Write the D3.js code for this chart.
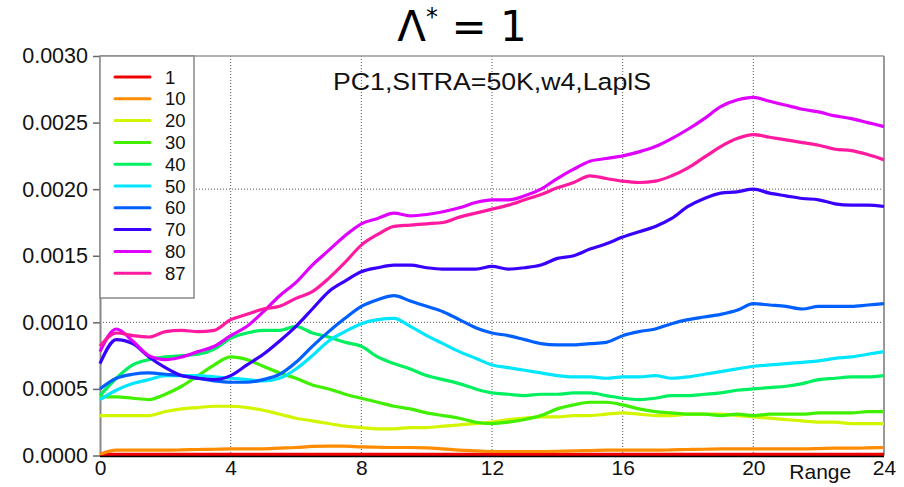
<!DOCTYPE html>
<html>
<head>
<meta charset="utf-8">
<script src="https://cdn.jsdelivr.net/npm/d3@7"></script>
<style>
  body { margin: 0; background: #fff; }
  svg { display: block; font-family: "Liberation Sans", Arial, sans-serif; }
  .grid line { stroke: #555; stroke-width: 1; stroke-dasharray: 1,2; }
</style>
</head>
<body>
<div id="chart"></div>
<script>
// range values (x)
var ranges = [0, 0.5, 1, 1.5, 2, 2.5, 3, 3.5, 4, 4.5, 5, 5.5, 6, 6.5, 7, 7.5, 8, 8.5, 9, 9.5,
  10, 10.5, 11, 11.5, 12, 12.5, 13, 13.5, 14, 14.5, 15, 15.5, 16, 16.5, 17, 17.5, 18, 18.5, 19, 19.5,
  20, 20.5, 21, 21.5, 22, 22.5, 23, 23.5, 24];

var seriesNames = ["1", "10", "20", "30", "40", "50", "60", "70", "80", "87"];
var seriesColors = ["#ee0000", "#ff8c00", "#d2f500", "#40f000", "#00f060", "#00e6ff", "#0060ff", "#3a00ff", "#e000ff", "#ff1aa0"];

var s1 = [0.000008, 0.000008, 0.000008, 0.000008, 0.000008, 0.000008, 0.000008, 0.000008, 0.000008, 0.000008,
  0.000008, 0.000008, 0.000008, 0.000008, 0.000008, 0.000008, 0.000008, 0.000008, 0.000008, 0.000008,
  0.000008, 0.000008, 0.000008, 0.000008, 0.000008, 0.000008, 0.000008, 0.000008, 0.000008, 0.000008,
  0.000008, 0.000008, 0.000008, 0.000008, 0.000008, 0.000008, 0.000008, 0.000008, 0.000008, 0.000008,
  0.000008, 0.000008, 0.000008, 0.000008, 0.000008, 0.000008, 0.000008, 0.000008, 0.000008];
var s10 = [0.00001, 0.00004, 0.00004, 0.00004, 0.00004, 0.000042, 0.000045, 0.000047, 0.00005, 0.00005,
  0.00005, 0.000055, 0.00006, 0.000068, 0.00007, 0.00007, 0.000065, 0.000062, 0.00006, 0.00006,
  0.000058, 0.00005, 0.00004, 0.000035, 0.00003, 0.00003, 0.00003, 0.00003, 0.000032, 0.000035,
  0.000037, 0.00004, 0.00004, 0.00004, 0.00004, 0.000042, 0.000045, 0.000047, 0.00005, 0.00005,
  0.00005, 0.00005, 0.00005, 0.00005, 0.000052, 0.000055, 0.000055, 0.000057, 0.00006];
var s20 = [0.0003, 0.0003, 0.0003, 0.0003, 0.00033, 0.00035, 0.00036, 0.00037, 0.00037, 0.00036,
  0.00034, 0.00031, 0.00028, 0.00026, 0.00024, 0.00022, 0.00021, 0.0002, 0.0002, 0.00021,
  0.00021, 0.00022, 0.00023, 0.00024, 0.00025, 0.00027, 0.00028, 0.00029, 0.00029, 0.0003,
  0.0003, 0.00031, 0.00032, 0.00031, 0.0003, 0.0003, 0.00031, 0.00031, 0.00031, 0.0003,
  0.00029, 0.00028, 0.00027, 0.00026, 0.00025, 0.00025, 0.00024, 0.00024, 0.00024];
var s30 = [0.00044, 0.00044, 0.00043, 0.00042, 0.00046, 0.00052, 0.0006, 0.00068, 0.00074, 0.00072,
  0.00067, 0.00062, 0.00058, 0.00053, 0.0005, 0.00046, 0.00043, 0.0004, 0.00037, 0.00035,
  0.00032, 0.0003, 0.00028, 0.00025, 0.00024, 0.00025, 0.00027, 0.0003, 0.00035, 0.00038,
  0.0004, 0.0004, 0.00038, 0.00035, 0.00033, 0.00032, 0.00031, 0.00031, 0.0003, 0.00031,
  0.0003, 0.00031, 0.00031, 0.00031, 0.00032, 0.00032, 0.00032, 0.00033, 0.00033];
var s40 = [0.00045, 0.00058, 0.00068, 0.00072, 0.00074, 0.00075, 0.00076, 0.0008, 0.00088, 0.00092,
  0.00094, 0.00094, 0.00097, 0.00092, 0.00089, 0.00085, 0.00082, 0.00074, 0.00069, 0.00065,
  0.0006, 0.00057, 0.00054, 0.0005, 0.00047, 0.00046, 0.00045, 0.00046, 0.00046, 0.00047,
  0.00047, 0.00045, 0.00043, 0.00042, 0.00043, 0.00045, 0.00045, 0.00046, 0.00047, 0.00049,
  0.0005, 0.00051, 0.00052, 0.00054, 0.00057, 0.00058, 0.00059, 0.00059, 0.0006];
var s50 = [0.00042, 0.00049, 0.00054, 0.00057, 0.0006, 0.0006, 0.0006, 0.00059, 0.00058, 0.00057,
  0.00056, 0.00058, 0.00065, 0.00075, 0.00086, 0.00093, 0.00099, 0.00102, 0.00103, 0.00097,
  0.0009, 0.00084, 0.00078, 0.00073, 0.00068, 0.00066, 0.00064, 0.00062, 0.0006, 0.00059,
  0.00059, 0.00058, 0.00059, 0.00059, 0.0006, 0.00058, 0.00059, 0.00061, 0.00063, 0.00065,
  0.00067, 0.00068, 0.00069, 0.0007, 0.00071, 0.00073, 0.00074, 0.00076, 0.00078];
var s60 = [0.0005, 0.00058, 0.00061, 0.00062, 0.00061, 0.0006, 0.00058, 0.00056, 0.00055, 0.00055,
  0.00057, 0.00061, 0.0007, 0.00082, 0.00093, 0.00103, 0.00112, 0.00117, 0.0012, 0.00116,
  0.00112, 0.00108, 0.00102, 0.00096, 0.00092, 0.0009, 0.00087, 0.00084, 0.00083, 0.00083,
  0.00084, 0.00085, 0.0009, 0.00093, 0.00095, 0.00099, 0.00102, 0.00104, 0.00106, 0.00109,
  0.00114, 0.00113, 0.00112, 0.0011, 0.00112, 0.00112, 0.00112, 0.00113, 0.00114];
var s70 = [0.00069, 0.00087, 0.00084, 0.00074, 0.00066, 0.0006, 0.00058, 0.00057, 0.0006, 0.00068,
  0.00076, 0.00086, 0.00097, 0.0011, 0.00123, 0.00131, 0.00138, 0.00141, 0.00143, 0.00143,
  0.00141, 0.0014, 0.0014, 0.0014, 0.00142, 0.0014, 0.00141, 0.00143, 0.00148, 0.0015,
  0.00155, 0.00159, 0.00164, 0.00168, 0.00172, 0.00178, 0.00187, 0.00193, 0.00197, 0.00198,
  0.002, 0.00197, 0.00195, 0.00193, 0.00192, 0.00189, 0.00188, 0.00188, 0.00187];
var s80 = [0.00078, 0.00095, 0.00086, 0.00075, 0.00072, 0.00074, 0.00078, 0.00082, 0.0009, 0.00097,
  0.00108, 0.0012, 0.0013, 0.00143, 0.00154, 0.00165, 0.00174, 0.00178, 0.00182, 0.0018,
  0.00181, 0.00183, 0.00186, 0.0019, 0.00192, 0.00192, 0.00195, 0.002, 0.00208, 0.00215,
  0.00221, 0.00223, 0.00225, 0.00228, 0.00232, 0.00238, 0.00245, 0.00253, 0.00262, 0.00267,
  0.00269, 0.00266, 0.00263, 0.0026, 0.00258, 0.00255, 0.00253, 0.0025, 0.00247];
var s87 = [0.00082, 0.00092, 0.0009, 0.00089, 0.00093, 0.00094, 0.00093, 0.00094, 0.00102, 0.00106,
  0.0011, 0.00112, 0.00118, 0.00123, 0.00133, 0.00145, 0.00158, 0.00166, 0.00172, 0.00173,
  0.00174, 0.00175, 0.00179, 0.00182, 0.00185, 0.00188, 0.00192, 0.00196, 0.00201, 0.00205,
  0.0021, 0.00208, 0.00206, 0.00205, 0.00206, 0.0021, 0.00216, 0.00224, 0.00232, 0.00238,
  0.00241, 0.00239, 0.00237, 0.00235, 0.00233, 0.0023, 0.00229, 0.00226, 0.00222];

var allSeries = [s1, s10, s20, s30, s40, s50, s60, s70, s80, s87];

var xTicks = [0, 4, 8, 12, 16, 20, 24];
var yTicks = [0, 0.0005, 0.001, 0.0015, 0.002, 0.0025, 0.003];
var gridX = [4, 8, 12, 16, 20];
var gridY = [0.001, 0.002];

var W = 904, H = 487;
var margin = {top: 56, right: 20, bottom: 31.5, left: 100};
var width = W - margin.left - margin.right,
    height = H - margin.top - margin.bottom;

var svg = d3.select("#chart").append("svg")
    .attr("width", W)
    .attr("height", H);

// title
var title = svg.append("text")
    .attr("x", 462)
    .attr("y", 41)
    .attr("text-anchor", "middle")
    .style("font-family", "'DejaVu Sans', sans-serif")
    .style("font-size", "42px")
    .style("fill", "#000");
title.append("tspan").text("Λ");
title.append("tspan").attr("dy", -16).style("font-size", "24px").text("*");
title.append("tspan").attr("dy", 16).text(" = 1");

var g = svg.append("g")
    .attr("transform", "translate(" + margin.left + "," + margin.top + ")");

var x = d3.scaleLinear().domain([0, 24]).range([0, width]);
var y = d3.scaleLinear().domain([0, 0.003]).range([height, 0]);

// grid
g.append("g").attr("class", "grid")
  .selectAll("line").data(gridX).enter().append("line")
    .attr("x1", function(d) { return x(d); })
    .attr("x2", function(d) { return x(d); })
    .attr("y1", 0).attr("y2", height);
g.append("g").attr("class", "grid")
  .selectAll("line").data(gridY).enter().append("line")
    .attr("x1", 0).attr("x2", width)
    .attr("y1", function(d) { return y(d); })
    .attr("y2", function(d) { return y(d); });

// frame top/right
g.append("line").attr("x1", 0).attr("x2", width).attr("y1", 0).attr("y2", 0)
    .style("stroke", "#999").style("stroke-width", 1.5);
g.append("line").attr("x1", width).attr("x2", width).attr("y1", 0).attr("y2", height)
    .style("stroke", "#999").style("stroke-width", 2);

// y axis
var yAxis = g.append("g")
    .call(d3.axisLeft(y).tickValues(yTicks).tickFormat(d3.format(".4f")).tickSize(7).tickSizeOuter(0));
yAxis.select(".domain").style("stroke", "#888").style("stroke-width", 2);
yAxis.selectAll(".tick line").style("stroke", "#666").style("stroke-width", 1.5);
yAxis.selectAll("text").style("font-size", "21.5px").style("fill", "#111").attr("x", -12);

// x axis
var xAxis = g.append("g")
    .attr("transform", "translate(0," + height + ")")
    .call(d3.axisBottom(x).tickValues(xTicks).tickSize(0).tickSizeOuter(0));
xAxis.select(".domain").remove();
xAxis.selectAll("text").style("font-size", "21px").style("fill", "#111").attr("y", 5);

g.append("text")
    .attr("x", x(22.05))
    .attr("y", height + 23)
    .attr("text-anchor", "middle")
    .style("font-size", "21px")
    .style("fill", "#111")
    .text("Range");

// lines
var line = d3.line()
    .x(function(d, i) { return x(ranges[i]); })
    .y(function(d) { return y(d); })
    .curve(d3.curveMonotoneX);

allSeries.forEach(function(s, k) {
    g.append("path")
        .datum(s)
        .attr("d", line)
        .style("fill", "none")
        .style("stroke", seriesColors[k])
        .style("stroke-width", 3.2)
        .style("stroke-linejoin", "round");
});

// bottom axis line
g.append("line").attr("x1", 0).attr("x2", width).attr("y1", height + 1).attr("y2", height + 1)
    .style("stroke", "#000").style("stroke-width", 1.5);

// subtitle
g.append("text")
    .attr("x", 392)
    .attr("y", 34)
    .attr("text-anchor", "middle")
    .attr("textLength", 318)
    .attr("lengthAdjust", "spacingAndGlyphs")
    .style("font-size", "24.5px")
    .style("fill", "#111")
    .text("PC1,SITRA=50K,w4,LaplS");

// legend
var legend = g.append("g");
legend.append("rect")
    .attr("x", 0).attr("y", 0)
    .attr("width", 94).attr("height", 242)
    .style("fill", "#fff")
    .style("stroke", "#888")
    .style("stroke-width", 1.5);
seriesNames.forEach(function(name, k) {
    var ly = 21 + k * 21.8;
    legend.append("line")
        .attr("x1", 15).attr("x2", 50)
        .attr("y1", ly).attr("y2", ly)
        .style("stroke", seriesColors[k])
        .style("stroke-width", 3)
        .style("stroke-linecap", "round");
    legend.append("text")
        .attr("x", 65).attr("y", ly + 6.5)
        .style("font-size", "18.5px")
        .style("fill", "#111")
        .text(name);
});
</script>
</body>
</html>
